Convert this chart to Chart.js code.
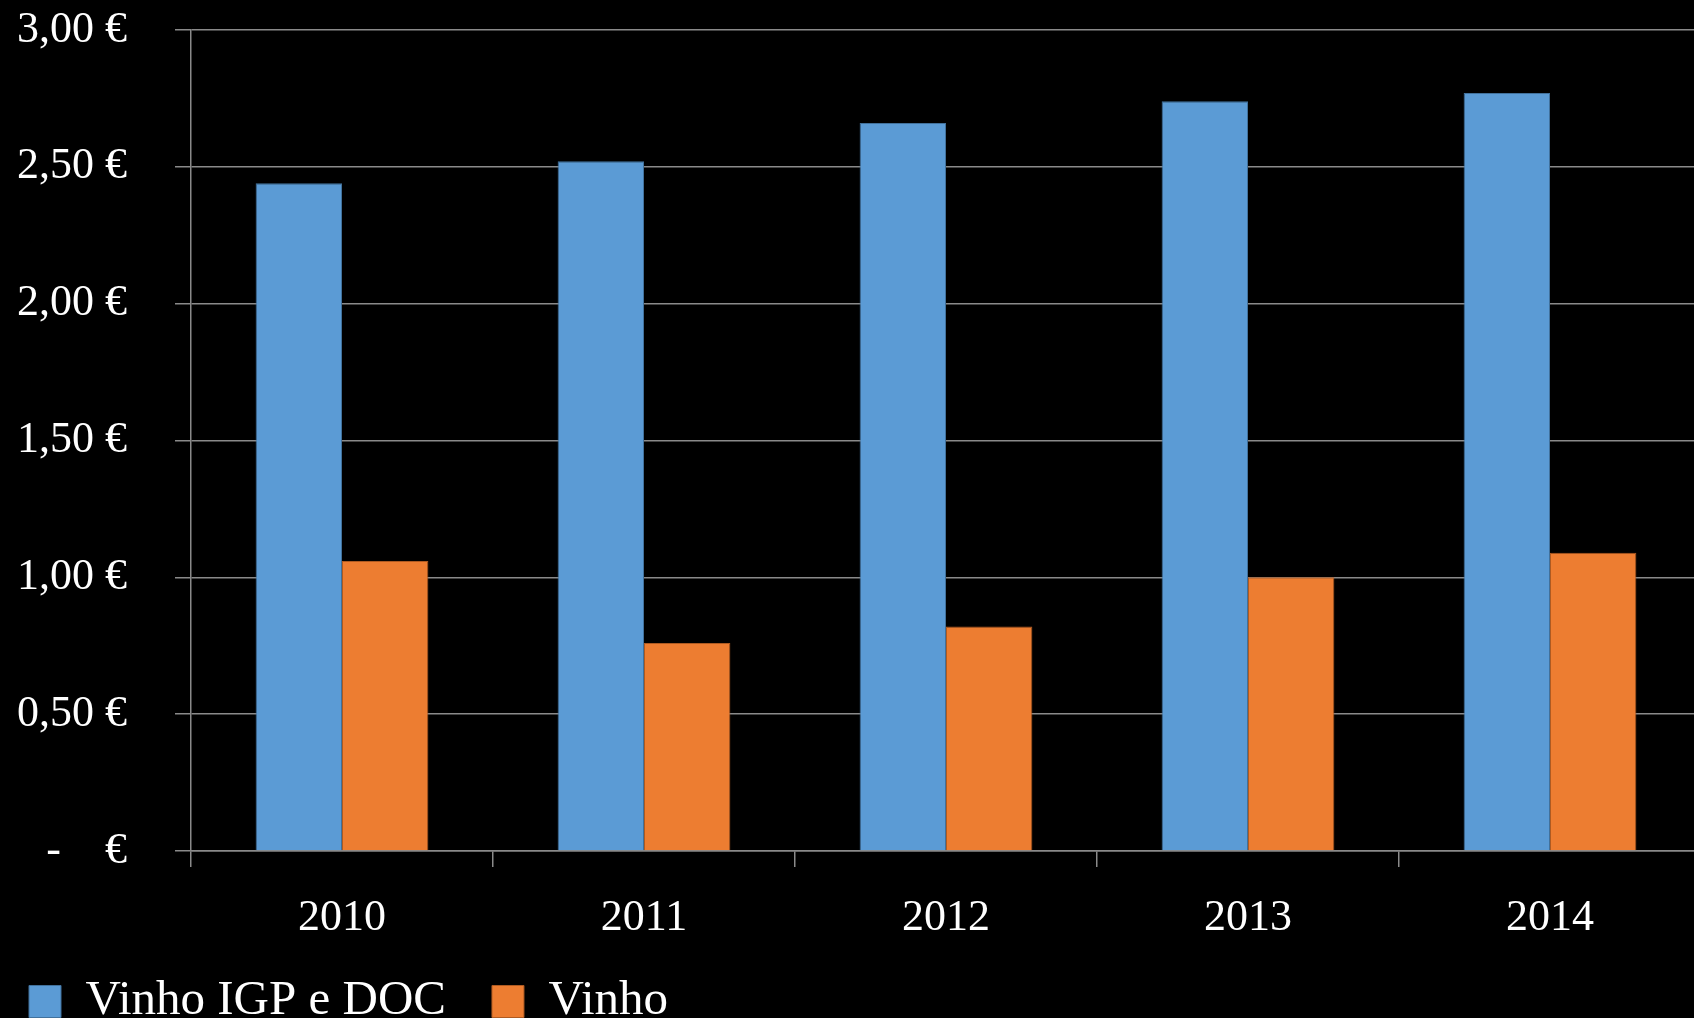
<!DOCTYPE html>
<html>
<head>
<meta charset="utf-8">
<script src="https://cdn.jsdelivr.net/npm/chart.js@4.4.0/dist/chart.umd.min.js"></script>
<style>
  html, body { margin: 0; padding: 0; background: #000; overflow: hidden; }
  /* chart is a bit wider/taller than the window, like the cropped original */
  #wrap { position: absolute; left: -17px; top: 0; width: 1718px; height: 1036px; }
</style>
</head>
<body>
<div id="wrap"><canvas id="priceChart"></canvas></div>
<script>
const years = ['2010', '2011', '2012', '2013', '2014'];
const igpDoc = [2.44, 2.52, 2.66, 2.74, 2.77];
const vinho = [1.06, 0.76, 0.82, 1.00, 1.09];
const yTickLabels = ['-    €', '0,50 €', '1,00 €', '1,50 €', '2,00 €', '2,50 €', '3,00 €'];

const serif = '"Liberation Serif", "Times New Roman", serif';
const gridGray = '#8a8a8a';

const ctx = document.getElementById('priceChart');

let priceChart = new Chart(ctx, {
    type: 'bar',
    data: {
        labels: years,
        datasets: [{
            label: 'Vinho IGP e DOC',
            data: igpDoc,
            backgroundColor: '#5B9BD5',
            borderColor: '#41719C',
            borderWidth: 1
        }, {
            label: 'Vinho',
            data: vinho,
            backgroundColor: '#ED7D31',
            borderColor: '#AE5A21',
            borderWidth: 1
        }]
    },
    options: {
        responsive: true,
        maintainAspectRatio: false,
        animation: false,
        layout: {
            padding: { top: 30, left: 0, right: 0, bottom: 0 }
        },
        datasets: {
            bar: {
                categoryPercentage: 0.572,
                barPercentage: 1
            }
        },
        plugins: {
            tooltip: { enabled: false },
            legend: {
                position: 'bottom',
                align: 'start',
                labels: {
                    color: '#fff',
                    boxWidth: 32,
                    boxHeight: 32,
                    padding: 46,
                    font: { family: serif, size: 49 }
                }
            }
        },
        scales: {
            x: {
                afterFit: (scale) => { scale.height = 80; },
                grid: {
                    offset: true,
                    drawOnChartArea: false,
                    drawTicks: true,
                    tickLength: 16,
                    color: gridGray,
                    lineWidth: 1.5
                },
                border: { color: gridGray, width: 1.5 },
                ticks: {
                    color: '#fff',
                    padding: 25,
                    font: { family: serif, size: 44 }
                }
            },
            y: {
                min: 0,
                max: 3,
                afterFit: (scale) => {
                    scale.width = 208;
                    scale.paddingTop = 0;
                    scale.paddingBottom = 0;
                },
                grid: {
                    tickLength: 16,
                    color: gridGray,
                    lineWidth: 1.5
                },
                border: { color: gridGray, width: 1.5 },
                ticks: {
                    stepSize: 0.5,
                    color: '#fff',
                    padding: 48,
                    font: { family: serif, size: 44 },
                    callback: (value) => yTickLabels[Math.round(value / 0.5)]
                }
            }
        }
    }
});
</script>
</body>
</html>
